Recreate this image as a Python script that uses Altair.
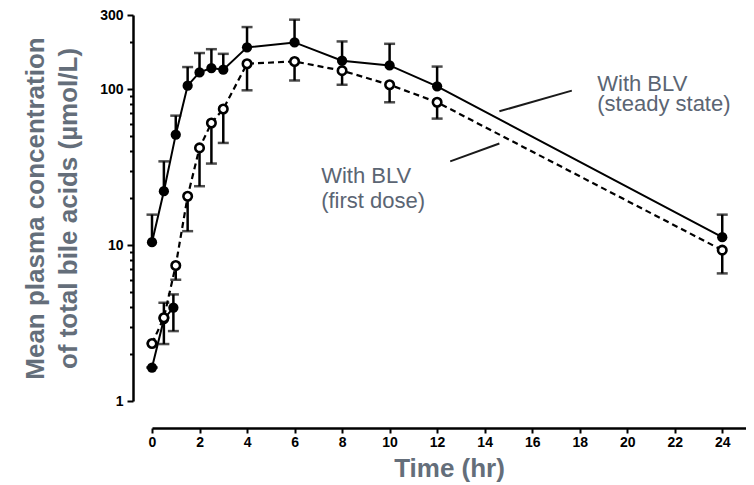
import altair as alt
import pandas as pd

# ---- data ----
time_ss = [0, 0.5, 1, 1.5, 2, 2.5, 3, 4, 6, 8, 10, 12, 24]
mean_ss = [10.45, 22.2, 51.2, 105.6, 128.5, 137, 133.7, 186, 200, 152.7, 142.5, 104.6, 11.25]
upper_ss = [15.7, 34.5, 67.8, 139, 171, 181, 169, 251, 280, 203, 196, 140, 15.7]

time_fd = [0, 0.5, 1, 1.5, 2, 2.5, 3, 4, 6, 8, 10, 12, 24]
mean_fd = [2.34, 3.42, 7.41, 20.6, 42.1, 60.8, 74.8, 146, 151, 131.8, 107, 82.6, 9.29]
lower_fd = [2.34, 3.42, 6.0, 12.3, 23.9, 33.4, 45.3, 98.6, 114, 107, 82.6, 64.9, 6.59]

# partly visible early series (filled markers, solid line)
time_early = [0, 0.5, 0.9]
mean_early = [1.64, 3.35, 3.97]
lower_early = [1.64, 2.32, 2.81]
upper_early = [1.64, 4.27, 4.83]

x_ticks = [0, 2, 4, 6, 8, 10, 12, 14, 16, 18, 20, 22, 24]
y_ticks = [1, 2, 3, 4, 5, 6, 7, 8, 9, 10, 20, 30, 40, 50, 60, 70, 80, 90, 100, 200, 300]
y_major = [1, 10, 100, 300]

# annotation leader lines (data units)
lead_t1 = [14.62, 12.55]
lead_c1 = [72.3, 34.5]
lead_t2 = [17.67, 14.62]
lead_c2 = [98.1, 44.9]

label_lines = ["With BLV", "(steady state)", "With BLV", "(first dose)"]
label_t = [18.74, 18.74, 7.12, 7.12]
label_c = [98.1, 72.3, 25.1, 17.3]

# ---- tables ----
ss = pd.DataFrame({"t": time_ss, "c": mean_ss, "e": upper_ss})
fd = pd.DataFrame({"t": time_fd, "c": mean_fd, "e": lower_fd})
early = pd.DataFrame({"t": time_early, "c": mean_early})
early_bars = pd.DataFrame({"t": time_early * 2, "c": mean_early * 2,
                           "e": lower_early + upper_early})
leads = pd.DataFrame({"t": lead_t1, "c": lead_c1, "t2": lead_t2, "c2": lead_c2})
labels = pd.DataFrame({"t": label_t, "c": label_c, "txt": label_lines})

FONT = "Liberation Sans"
TITLE_COLOR = "#646e7a"

major_test = " || ".join(f"datum.value == {v}" for v in y_major)

xscale = alt.Scale(domain=[0, 25], nice=False, zero=False)
yscale = alt.Scale(type="log", domain=[1, 300], nice=False)

xaxis = alt.Axis(
    values=x_ticks, title="Time (hr)", grid=False, offset=27,
    domainColor="black", domainWidth=2.5, tickColor="black", tickWidth=2, tickSize=5,
    labelFont=FONT, labelFontSize=14, labelFontWeight="bold", labelColor="black",
    labelPadding=2, labelFlush=False, labelOverlap=False,
    titleFont=FONT, titleFontSize=26, titleFontWeight="bold", titleColor=TITLE_COLOR,
    titlePadding=6,
)
yaxis = alt.Axis(
    values=y_ticks, grid=False, offset=19,
    labelExpr=f"({major_test}) ? format(datum.value, 'd') : ''",
    title=["Mean plasma concentration", "of total bile acids (µmol/L)"],
    domainColor="black", domainWidth=2.5, tickColor="black", tickWidth=2,
    tickSize={"condition": {"test": major_test, "value": 6}, "value": 3.5},
    labelFont=FONT, labelFontSize=14, labelFontWeight="bold", labelColor="black",
    labelPadding=4, labelFlush=False, labelOverlap=False,
    titleFont=FONT, titleFontSize=26, titleFontWeight="bold", titleColor=TITLE_COLOR,
    titleLineHeight=33, titlePadding=18,
)

X = alt.X("t:Q", scale=xscale, axis=xaxis)
Y = alt.Y("c:Q", scale=yscale, axis=yaxis)


def xs():
    return alt.X("t:Q", scale=xscale)


def ys(field="c"):
    return alt.Y(f"{field}:Q", scale=yscale)


line_ss = alt.Chart(ss).mark_line(color="black", strokeWidth=2).encode(x=X, y=Y)
line_fd = alt.Chart(fd).mark_line(color="black", strokeWidth=2.2, strokeDash=[6, 4]).encode(x=xs(), y=ys())
line_early = alt.Chart(early).mark_line(color="black", strokeWidth=2).encode(x=xs(), y=ys())


def bars(df):
    stem = alt.Chart(df).mark_rule(color="black", strokeWidth=2.5).encode(
        x=xs(), y=ys(), y2=alt.Y2("e:Q"))
    cap = alt.Chart(df).mark_tick(color="black", orient="horizontal", size=11, thickness=2.5).encode(
        x=xs(), y=ys("e"))
    return stem + cap


bars_ss = bars(ss)
bars_fd = bars(fd)
bars_early = bars(early_bars)

pts_ss = alt.Chart(ss).mark_point(shape="circle", filled=True, color="black", size=105, opacity=1).encode(x=xs(), y=ys())
pts_early = alt.Chart(early).mark_point(shape="circle", filled=True, color="black", size=105, opacity=1).encode(x=xs(), y=ys())
pts_fd = alt.Chart(fd).mark_point(shape="circle", filled=True, fill="white", stroke="black",
                                  strokeWidth=2.6, size=72, opacity=1).encode(x=xs(), y=ys())

lead_lines = alt.Chart(leads).mark_rule(color="#1a1a1a", strokeWidth=2).encode(
    x=xs(), y=ys(), x2=alt.X2("t2:Q"), y2=alt.Y2("c2:Q"))

texts = alt.Chart(labels).mark_text(
    align="left", baseline="alphabetic", font=FONT, fontSize=22, color="#5b6573"
).encode(x=xs(), y=ys(), text="txt:N")

chart = alt.layer(
    line_ss, line_fd, line_early,
    bars_ss, bars_fd, bars_early,
    pts_ss, pts_early, pts_fd,
    lead_lines, texts,
).properties(
    width=594, height=386,
    autosize=alt.AutoSizeParams(type="none"),
    padding={"left": 144, "top": 7, "right": 0, "bottom": 84},
).configure_view(stroke=None)

chart.save("out.html", embed_options={"renderer": "svg", "actions": False})
